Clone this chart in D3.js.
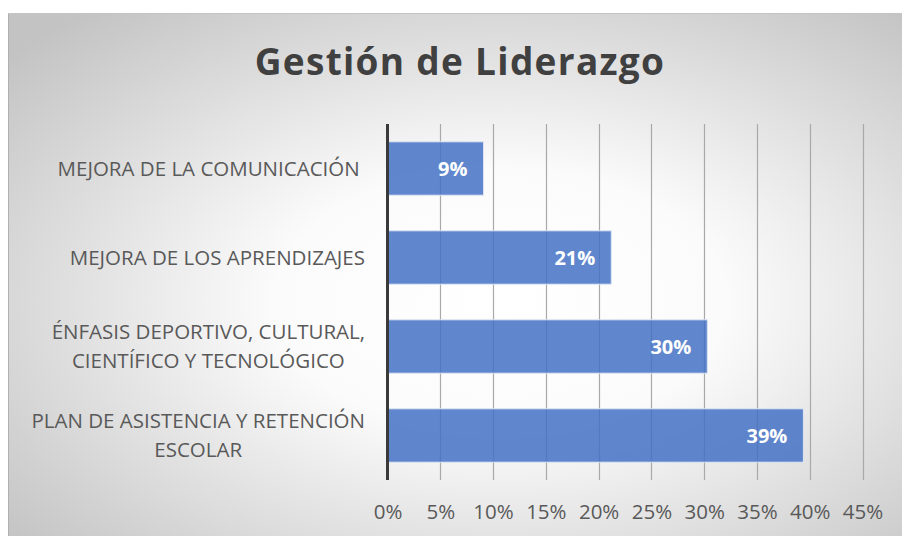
<!DOCTYPE html>
<html><head><meta charset="utf-8">
<script src="https://cdn.jsdelivr.net/npm/d3@7"></script>
<style>html,body{margin:0;padding:0;background:#fff;}svg{display:block;}</style>
</head><body>
<svg id="chart" width="902" height="536"></svg>
<script>
const title = "Gestión de Liderazgo";
const categories = [
  ["MEJORA DE LA COMUNICACIÓN "],
  ["MEJORA DE LOS APRENDIZAJES"],
  ["ÉNFASIS DEPORTIVO, CULTURAL,", "CIENTÍFICO Y TECNOLÓGICO"],
  ["PLAN DE ASISTENCIA Y RETENCIÓN", "ESCOLAR"]
];
const values = [0.091, 0.212, 0.303, 0.394];
const valueLabels = ["9%", "21%", "30%", "39%"];
const tickValues = [0, 0.05, 0.10, 0.15, 0.20, 0.25, 0.30, 0.35, 0.40, 0.45];

const svg = d3.select("#chart");
const W = 902, H = 536;
const frame = {x: 8, y: 13, w: W - 8, h: H - 13};
const plot = {left: 387.5, right: 862.5, top: 124, bottom: 480};
const FONT = "'Open Sans', sans-serif";

const defs = svg.append("defs");
const grad = defs.append("radialGradient").attr("id", "bg")
  .attr("cx", 0.55).attr("cy", 0.55).attr("r", 0.72);
grad.append("stop").attr("offset", 0).attr("stop-color", "#ffffff");
grad.append("stop").attr("offset", 0.35).attr("stop-color", "#fbfbfb");
grad.append("stop").attr("offset", 1).attr("stop-color", "#c3c3c3");

svg.append("rect").attr("x", frame.x).attr("y", frame.y)
  .attr("width", frame.w).attr("height", frame.h).attr("fill", "url(#bg)");
svg.append("line").attr("x1", frame.x + 0.5).attr("x2", frame.x + 0.5)
  .attr("y1", frame.y).attr("y2", H).attr("stroke", "#b0b0b0");
svg.append("line").attr("x1", frame.x).attr("x2", W)
  .attr("y1", frame.y + 0.5).attr("y2", frame.y + 0.5).attr("stroke", "#c4c4c4");

svg.append("text").attr("x", 460).attr("y", 75)
  .attr("text-anchor", "middle")
  .attr("font-family", FONT).attr("font-weight", 700)
  .attr("font-size", 37).attr("letter-spacing", 1.3)
  .attr("fill", "#404040").text(title);

const x = d3.scaleLinear().domain([0, 0.45]).range([plot.left, plot.right]);
const y = d3.scaleBand().domain(d3.range(categories.length))
  .range([plot.top, plot.bottom]).paddingInner(0.4).paddingOuter(0.2);

// gridlines
svg.append("g").selectAll("line").data(tickValues.slice(1)).join("line")
  .attr("x1", d => Math.round(x(d)) + 0.5).attr("x2", d => Math.round(x(d)) + 0.5)
  .attr("y1", plot.top).attr("y2", plot.bottom)
  .attr("stroke", "#a9a9a9").attr("stroke-width", 1.2);

// bars
svg.append("g").selectAll("rect").data(values).join("rect")
  .attr("x", x(0)).attr("y", (d, i) => y(i))
  .attr("width", d => x(d) - x(0)).attr("height", y.bandwidth())
  .attr("fill", "#4472c4").attr("fill-opacity", 0.85)
  .attr("stroke", "#dfe6f3").attr("stroke-width", 1);

// value labels
svg.append("g").selectAll("text").data(values).join("text")
  .attr("x", d => x(d) - 16).attr("y", (d, i) => y(i) + y.bandwidth() / 2)
  .attr("dy", "0.36em").attr("text-anchor", "end")
  .attr("font-family", FONT).attr("font-weight", 700)
  .attr("font-size", 20).attr("fill", "#ffffff")
  .text((d, i) => valueLabels[i]);

// axis line
svg.append("line").attr("x1", x(0)).attr("x2", x(0))
  .attr("y1", plot.top).attr("y2", plot.bottom)
  .attr("stroke", "#3a3a3a").attr("stroke-width", 3);

// x tick labels
const xAxis = d3.axisBottom(x).tickValues(tickValues).tickSize(0)
  .tickFormat(d3.format(".0%"));
const gx = svg.append("g").attr("transform", `translate(0,${plot.bottom + 21})`).call(xAxis);
gx.select(".domain").remove();
gx.selectAll("text").attr("font-family", FONT)
  .attr("font-size", 20.5).attr("fill", "#595959");

// category labels
const labelRight = 365;
const lh = 29;
categories.forEach((lines, i) => {
  const cy = y(i) + y.bandwidth() / 2;
  const t = svg.append("text")
    .attr("font-family", FONT).attr("font-size", 20.5)
    .attr("fill", "#595959").attr("text-anchor", "middle")
    .style("white-space", "pre");
  lines.forEach((s, k) => {
    t.append("tspan").attr("data-k", k).text(s);
  });
  let bw = 0;
  t.selectAll("tspan").each(function() { bw = Math.max(bw, this.getComputedTextLength()); });
  const cx = labelRight - bw / 2;
  const y0 = cy - (lines.length - 1) * lh / 2;
  t.selectAll("tspan").attr("x", cx).attr("y", (d, k) => y0 + k * lh).attr("dy", "0.36em");
});
</script>
</body></html>
